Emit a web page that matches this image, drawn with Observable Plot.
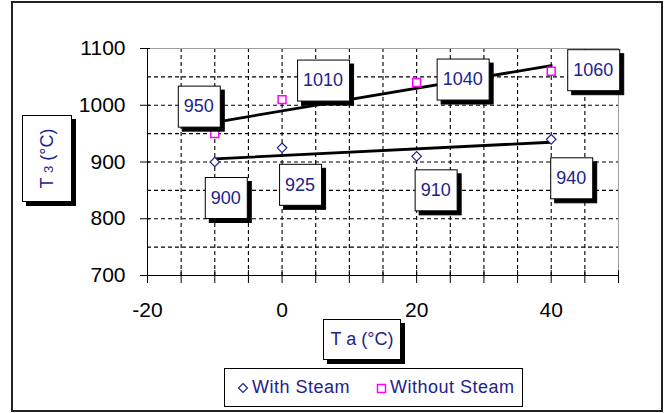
<!DOCTYPE html>
<html><head><meta charset="utf-8">
<script src="https://cdn.jsdelivr.net/npm/d3@7"></script>
<script src="https://cdn.jsdelivr.net/npm/@observablehq/plot@0.6"></script>
<style>
body{margin:0;background:#fff;}
#wrap{position:relative;width:669px;height:413px;overflow:hidden;font-family:"Liberation Sans",Arial,sans-serif;}
#wrap > svg{position:absolute;left:0;top:0;}
.box{position:absolute;background:#fff;border:1px solid #000;box-shadow:4px 4px 0 #000;color:#22228c;font-size:18px;box-sizing:border-box;display:flex;align-items:center;justify-content:center;white-space:nowrap;}
#outer{position:absolute;left:11px;top:1px;width:652px;height:411px;border:2px solid #222;box-sizing:border-box;pointer-events:none;z-index:5;}
#legend{position:absolute;left:224px;top:368px;width:299px;height:39px;border:1px solid #000;box-sizing:border-box;background:#fff;color:#22228c;font-size:18px;letter-spacing:0.5px;display:flex;align-items:center;z-index:4;}
#legend .item{display:flex;align-items:center;}
#legend svg{display:block;}
</style>
</head><body>
<div id="wrap">
  <div id="outer"></div>
</div>
<script>
// ---- data ----
const temps = [-10, 0, 20, 40];
const withSteam = [900, 925, 910, 940];
const withoutSteam = [950, 1010, 1040, 1060];
const seriesNames = ["With Steam", "Without Steam"];
const xTicks = [-20, 0, 20, 40];
const yTicks = [700, 800, 900, 1000, 1100];
const xTitle = "T a (°C)";
const yTitleMain = "T ", yTitleSub = "3", yTitleRest = " (°C)";
// label box offsets (pixels, styling only)
const withOffsets = [[11, 36], [18, 37], [19, 34], [20, 39]];
const withoutOffsets = [[-16, -27], [41, -19], [46, -3], [42, -1]];

const navy = "#22228c", magenta = "#ff00ff";

const rows = [];
temps.forEach((t, i) => {
  rows.push({series: seriesNames[0], t, v: withSteam[i], off: withOffsets[i]});
  rows.push({series: seriesNames[1], t, v: withoutSteam[i], off: withoutOffsets[i]});
});
const rowsWith = rows.filter(d => d.series === seriesNames[0]);
const rowsWithout = rows.filter(d => d.series === seriesNames[1]);

const labelMarks = rows.map(d => Plot.text([d], {
  x: "t", y: "v", text: d => String(d.v), dx: d.off[0], dy: d.off[1],
  fill: navy, fontSize: 18
}));

const plain = d => String(d);

const chart = Plot.plot({
  width: 669, height: 413,
  marginLeft: 147, marginRight: 51, marginTop: 48, marginBottom: 138,
  x: {domain: [-20, 50]},
  y: {domain: [700, 1100]},
  style: {fontFamily: '"Liberation Sans", Arial, sans-serif', fontSize: "21px", background: "transparent"},
  marks: [
    Plot.frame({fill: "white", stroke: "none"}),
    Plot.gridX(d3.range(-15, 50, 5), {stroke: "#000", strokeOpacity: 1, strokeWidth: 1.1, strokeDasharray: "4,3"}),
    Plot.gridY(d3.range(750, 1100, 50), {stroke: "#000", strokeOpacity: 1, strokeWidth: 1.1, strokeDasharray: "4,3"}),
    Plot.ruleY([1100], {stroke: "#a0a0a0"}),
    Plot.ruleX([50], {stroke: "#a0a0a0"}),
    Plot.ruleX([-20], {stroke: "#000"}),
    Plot.ruleY([700], {stroke: "#000"}),
    Plot.ruleX(d3.range(-20, 51, 5), {x: d => d, y1: 700, y2: 700, insetTop: -5, insetBottom: -8, stroke: "#000"}),
    Plot.ruleY(yTicks, {y: d => d, x1: -20, x2: -20, insetLeft: -7, insetRight: -3, stroke: "#000"}),
    Plot.axisX(xTicks, {tickSize: 0, tickPadding: 27, fontSize: 21, label: null, fill: "#000", tickFormat: plain}),
    Plot.axisY(yTicks, {tickSize: 0, tickPadding: 22, fontSize: 21, label: null, fill: "#000", tickFormat: plain}),
    Plot.linearRegressionY(rows, {x: "t", y: "v", z: "series", stroke: "#000", strokeWidth: 2.8, ci: 0}),
    Plot.dot(rowsWith, {x: "t", y: "v", symbol: "diamond2", r: 4.3, stroke: navy, strokeWidth: 1.2, fill: "white"}),
    Plot.dot(rowsWithout, {x: "t", y: "v", symbol: "square2", r: 5, stroke: magenta, strokeWidth: 1.5, fill: "white"}),
    ...labelMarks
  ]
});
const wrap = document.getElementById("wrap");
wrap.appendChild(chart);

// boxes with shadow behind data labels
const ns = "http://www.w3.org/2000/svg";
chart.querySelectorAll('g[aria-label="text"] text').forEach(t => {
  const bb = t.getBBox();
  const w = Math.round(bb.width + 12), h = 41;
  const x0 = Math.round(bb.x + bb.width / 2 - w / 2) + 0.5;
  const y0 = Math.round(bb.y + bb.height / 2 - h / 2) + 0.5;
  const tr = t.getAttribute("transform");
  const mk = (d, fill, stroke) => {
    const r = document.createElementNS(ns, "rect");
    r.setAttribute("x", x0 + d); r.setAttribute("y", y0 + d);
    r.setAttribute("width", w); r.setAttribute("height", h);
    r.setAttribute("fill", fill); r.setAttribute("stroke", stroke);
    if (tr) r.setAttribute("transform", tr);
    t.parentNode.insertBefore(r, t);
  };
  mk(4, "#000", "#000");
  mk(0, "#fff", "#000");
});

// axis titles
const xt = document.createElement("div");
xt.className = "box";
Object.assign(xt.style, {left: "323px", top: "319px", width: "78px", height: "41px", zIndex: 3});
xt.textContent = xTitle;
wrap.appendChild(xt);

const yt = document.createElement("div");
yt.className = "box";
Object.assign(yt.style, {left: "22px", top: "115px", width: "50px", height: "87px", zIndex: 3});
const ys = document.createElement("span");
ys.style.transform = "rotate(-90deg)";
ys.style.display = "inline-block";
ys.append(yTitleMain);
const sub = document.createElement("span"); sub.style.fontSize = "13px"; sub.textContent = yTitleSub;
ys.append(sub, yTitleRest);
yt.appendChild(ys);
wrap.appendChild(yt);

// legend
const lg = document.createElement("div");
lg.id = "legend";
const syms = [
  `<svg width="12" height="12" style="margin-left:12px;margin-right:3px"><path d="M6,1.5L10.5,6L6,10.5L1.5,6Z" fill="none" stroke="${navy}" stroke-width="1.2"/></svg>`,
  `<svg width="12" height="12" style="margin-left:25px;margin-right:3px"><rect x="2.5" y="2.5" width="8" height="8" fill="none" stroke="${magenta}" stroke-width="1.5"/></svg>`
];
seriesNames.forEach((n, i) => {
  const it = document.createElement("span");
  it.className = "item";
  it.innerHTML = syms[i];
  it.append(n);
  lg.appendChild(it);
});
wrap.appendChild(lg);
</script>
</body></html>
